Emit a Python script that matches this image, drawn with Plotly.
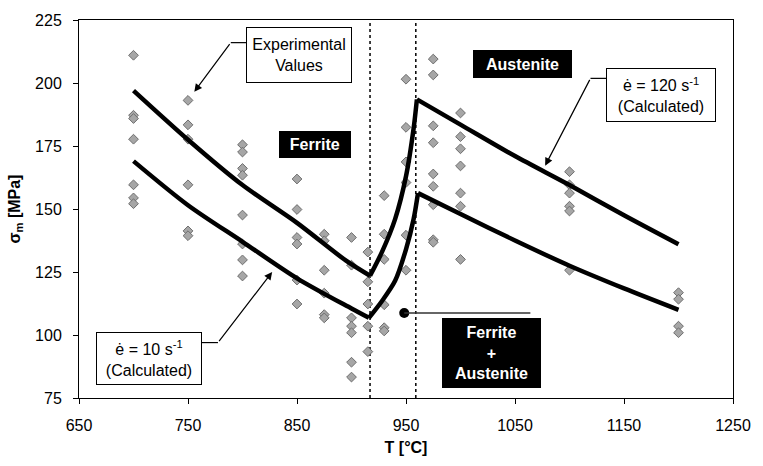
import plotly.graph_objects as go

# ---------------- data ----------------
# experimental values (temperature, stress)
exp_700 = [211.0, 187.2, 185.9, 177.7, 159.6, 154.4, 152.1]
exp_750 = [193.1, 183.4, 177.7, 159.6, 141.3, 139.4]
exp_800 = [175.5, 172.6, 166.1, 163.4, 147.6, 136.1, 129.8, 123.4]
exp_850 = [161.9, 149.8, 138.7, 136.1, 121.8, 112.3]
exp_875 = [140.0, 137.4, 125.7, 116.6, 108.1, 106.8]
exp_900 = [138.7, 127.7, 106.8, 103.5, 100.9, 89.2, 83.3]
exp_915 = [132.9, 121.1, 112.3, 103.5, 93.4]
exp_930 = [155.3, 140.0, 130.0, 112.0, 102.9, 101.6]
exp_950 = [201.5, 182.4, 168.7, 160.5, 139.6, 125.7]
exp_975 = [209.5, 203.2, 183.0, 176.3, 163.9, 159.0, 151.7, 137.8, 136.8]
exp_1000 = [188.1, 178.7, 173.9, 167.1, 156.3, 151.1, 130.0]
exp_1100 = [164.8, 159.6, 156.3, 151.1, 149.2, 125.7]
exp_1200 = [116.8, 114.2, 103.5, 100.9]
exp_groups = {700: exp_700, 750: exp_750, 800: exp_800, 850: exp_850, 875: exp_875,
              900: exp_900, 915: exp_915, 930: exp_930, 950: exp_950, 975: exp_975,
              1000: exp_1000, 1100: exp_1100, 1200: exp_1200}

# calculated curve, strain rate 120 1/s
hi_ferrite_T = [700, 750, 800, 850, 895, 917]
hi_ferrite_s = [197.0, 177.5, 159.5, 144.5, 129.5, 123.5]
hi_mixed_T = [917, 928, 940, 950, 957, 960]
hi_mixed_s = [123.5, 133.0, 146.0, 163.0, 182.0, 193.5]
hi_aust_T = [960, 1000, 1050, 1100, 1150, 1200]
hi_aust_s = [193.5, 183.5, 171.0, 159.5, 147.5, 136.0]

# calculated curve, strain rate 10 1/s
lo_ferrite_T = [700, 750, 800, 850, 900, 916]
lo_ferrite_s = [169.0, 151.5, 137.0, 122.5, 110.5, 106.8]
lo_mixed_T = [916, 928, 940, 950, 957, 961]
lo_mixed_s = [106.8, 113.5, 121.5, 134.0, 146.0, 156.3]
lo_aust_T = [961, 1000, 1050, 1100, 1150, 1200]
lo_aust_s = [156.3, 148.0, 137.5, 127.5, 118.5, 110.0]

phase_bounds = [917, 959]

x_ticks = [650, 750, 850, 950, 1050, 1150, 1250]
y_ticks = [75, 100, 125, 150, 175, 200, 225]

# ---------------- figure ----------------
FONT = "Liberation Sans, Arial, sans-serif"
FS = 16
fig = go.Figure()

ex_T, ex_s = [], []
for t, vals in exp_groups.items():
    for v in vals:
        ex_T.append(t)
        ex_s.append(v)

fig.add_trace(go.Scatter(
    x=ex_T, y=ex_s, mode="markers",
    marker=dict(symbol="diamond", size=7.5, color="#a6a6a6",
                line=dict(color="#6e6e6e", width=1)),
    showlegend=False, hoverinfo="skip"))

for xs, ys in [(hi_ferrite_T, hi_ferrite_s), (hi_mixed_T, hi_mixed_s), (hi_aust_T, hi_aust_s),
               (lo_ferrite_T, lo_ferrite_s), (lo_mixed_T, lo_mixed_s), (lo_aust_T, lo_aust_s)]:
    fig.add_trace(go.Scatter(x=xs, y=ys, mode="lines",
                             line=dict(color="black", width=4.5, shape="spline", smoothing=0.8),
                             showlegend=False, hoverinfo="skip"))

for b in phase_bounds:
    fig.add_shape(type="line", xref="x", yref="paper", x0=b, x1=b, y0=0, y1=1,
                  line=dict(color="black", width=1.5, dash="dot"), layer="below")

# layout pixel -> data helpers (for annotation placement)
L, R, T_, B = 79, 742.6, 14, 398
def px2x(p):
    return 650 + (p - L) / (R - L) * 600
def px2y(p):
    return 75 + (B - p) / (B - T_) * 150

def box(x0, y0, x1, y1, text, dark=False, size=FS):
    fig.add_annotation(
        x=px2x((x0 + x1) / 2), y=px2y((y0 + y1) / 2), xref="x", yref="y",
        text=text, showarrow=False,
        width=x1 - x0 - 2, height=y1 - y0 - 2, borderpad=0, borderwidth=1,
        bordercolor="black", bgcolor="black" if dark else "white",
        font=dict(family=FONT, size=size, color="white" if dark else "black"),
        align="center", valign="middle", xanchor="center", yanchor="middle")

def seg(x0, y0, x1, y1, width=1.2, color="black"):
    fig.add_shape(type="line", xref="x", yref="y",
                  x0=px2x(x0), y0=px2y(y0), x1=px2x(x1), y1=px2y(y1),
                  line=dict(color=color, width=width))

def arrow(tx, ty, hx, hy):
    fig.add_annotation(x=px2x(hx), y=px2y(hy), xref="x", yref="y",
                       ax=px2x(tx), ay=px2y(ty), axref="x", ayref="y",
                       text="", showarrow=True, arrowhead=2, arrowsize=1.3,
                       arrowwidth=1.2, arrowcolor="black")

# Experimental values label
box(249, 22, 355, 78, "Experimental<br>Values")
seg(249, 37, 233, 37)
arrow(233, 37, 196, 87)

# phase labels
box(282.7, 126.7, 354.3, 153.3, "<b>Ferrite</b>", dark=True)
box(479, 45, 578, 73, "<b>Austenite</b>", dark=True)
box(448.3, 317.3, 547.3, 387.3, "<b>Ferrite<br>+<br>Austenite</b>", dark=True)
seg(409, 311.7, 537, 311.7, width=1.5, color="#333333")
fig.add_trace(go.Scatter(x=[px2x(409)], y=[px2y(311.7)], mode="markers",
                         marker=dict(color="black", size=10), showlegend=False,
                         hoverinfo="skip"))

# strain-rate labels
box(615, 63, 725, 117, "ė = 120 s<sup>-1</sup><br>(Calculated)")
seg(615, 73.3, 598, 73.3)
arrow(598, 73.3, 552, 162)

box(96.7, 331.7, 202.7, 385, "ė = 10 s<sup>-1</sup><br>(Calculated)")
seg(203, 341.7, 220, 341.7)
arrow(220, 341.7, 275, 270)

axis_common = dict(showline=True, linecolor="black", linewidth=1, mirror=True,
                   ticks="outside", ticklen=5, tickcolor="black", showgrid=False,
                   zeroline=False, tickfont=dict(family=FONT, size=FS, color="black"))

fig.update_layout(
    width=763, height=466,
    margin=dict(l=79, r=20.4, t=14, b=68),
    paper_bgcolor="white", plot_bgcolor="white",
    font=dict(family=FONT, color="black"),
    xaxis=dict(range=[650, 1250], tickvals=x_ticks, ticklabelstandoff=8, **axis_common,
               title=dict(text="<b>T [°C]</b>", font=dict(family=FONT, size=FS), standoff=8)),
    yaxis=dict(range=[75, 225], tickvals=y_ticks, ticklabelstandoff=8, **axis_common,
               title=dict(text="<b>σ<sub>m</sub> [MPa]</b>", font=dict(family=FONT, size=FS),
                          standoff=10)),
)

fig.write_html("out.html")
